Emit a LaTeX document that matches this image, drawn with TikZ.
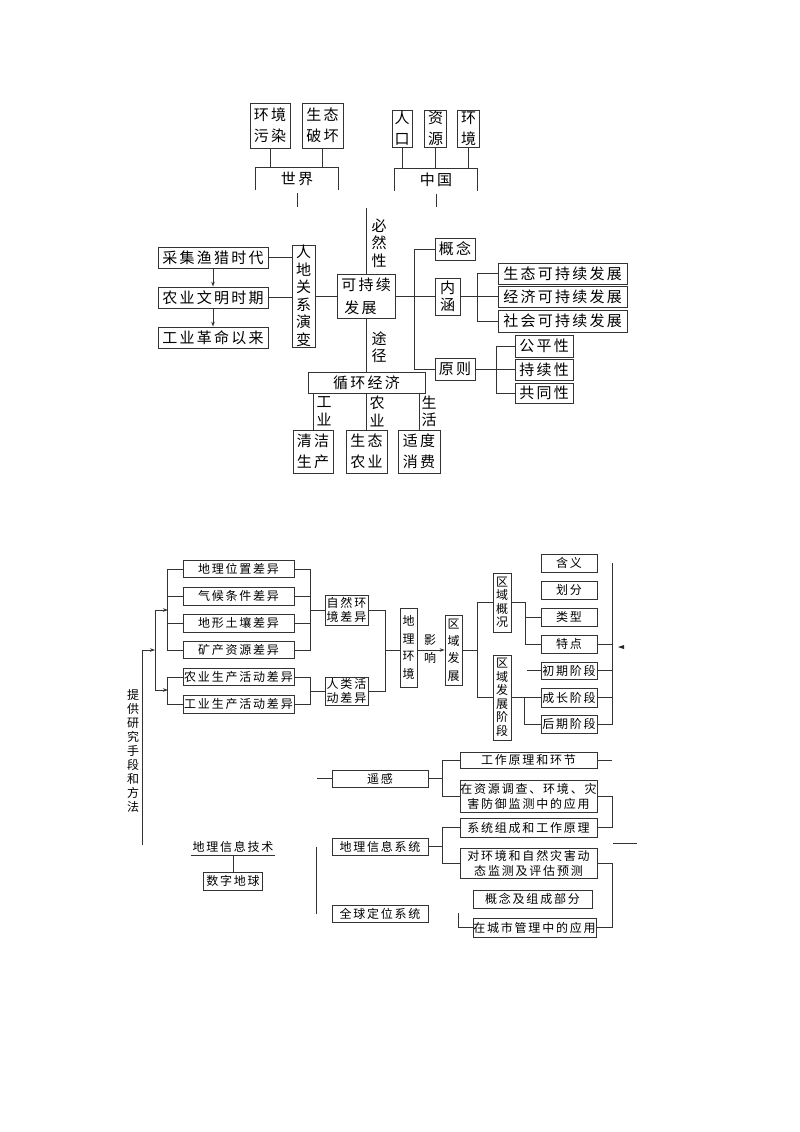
\documentclass[tikz,border=0pt]{standalone}
\usepackage{fontspec}
\newfontfamily\cjk[LetterSpace=15]{Noto Sans CJK SC}
\usetikzlibrary{arrows.meta}
\newcommand\ftop{\cjk\fontsize{15}{17.5}\selectfont}
\newcommand\ftopw{\cjk\fontsize{15}{21}\selectfont}
\newcommand\fbot{\cjk\fontsize{12}{14}\selectfont}
\tikzset{
  ln/.style={draw=black!80, line width=0.8pt},
  tbox/.style={draw=black!80, line width=0.8pt, inner sep=0pt, align=center, font=\ftop},
  bbox/.style={draw=black!80, line width=0.8pt, inner sep=0pt, align=center, font=\fbot},
  tlbl/.style={inner sep=0pt, align=center, font=\ftop},
  blbl/.style={inner sep=0pt, align=center, font=\fbot},
  arr/.style={ln, -{Stealth[length=5pt,width=3.5pt]}},
}
\begin{document}
\begin{tikzpicture}[x=1pt,y=-1pt]
\fill[white] (0,0) rectangle (800,1132);
\useasboundingbox (0,0) rectangle (800,1132);

% ================= TOP DIAGRAM =================
\node[tbox, font=\ftopw, minimum width=40, minimum height=45] (hjwr) at (270,125.5) {环境\\污染};
\node[tbox, font=\ftopw, minimum width=41, minimum height=45] (stph) at (322.5,125.5) {生态\\破坏};
\node[tbox, font=\ftopw, minimum width=20, minimum height=37] (rk) at (402,128.5) {人\\口};
\node[tbox, font=\ftopw, minimum width=22, minimum height=37] (zy) at (435.5,128.5) {资\\源};
\node[tbox, font=\ftopw, minimum width=22, minimum height=37] (hj) at (468.5,128.5) {环\\境};

\node[tlbl, minimum width=82, minimum height=22] (sj) at (297,179) {世界};
\draw[ln] (sj.south west) -- (sj.north west) -- (sj.north east) -- (sj.south east);
\node[tlbl, minimum width=82, minimum height=22] (zg) at (436,179.5) {中国};
\draw[ln] (zg.south west) -- (zg.north west) -- (zg.north east) -- (zg.south east);

\draw[ln] (hjwr.south) -- (hjwr.south |- sj.north);
\draw[ln] (stph.south) -- (stph.south |- sj.north);
\draw[ln] (rk.south) -- (rk.south |- zg.north);
\draw[ln] (zy.south) -- (zy.south |- zg.north);
\draw[ln] (hj.south) -- (hj.south |- zg.north);
\coordinate (sjEnd) at (297,207);
\coordinate (zgEnd) at (436,207);
\draw[ln] ([yshift=-3pt]sj.south) -- (sjEnd);
\draw[ln] ([yshift=-3pt]zg.south) -- (zgEnd);

% left chain
\node[tbox, minimum width=110, minimum height=21] (cj) at (213,257.5) {采集渔猎时代};
\node[tbox, minimum width=110, minimum height=21] (ny) at (213,297.5) {农业文明时期};
\node[tbox, minimum width=110, minimum height=21] (gy) at (213,337.5) {工业革命以来};
\draw[arr] (cj.south) -- (ny.north);
\draw[arr] (ny.south) -- (gy.north);

\node[tbox, minimum width=23, minimum height=102] (rd) at (303.5,296) {人\\地\\关\\系\\演\\变};
\draw[ln] (cj.east) -- (cj.east -| rd.west);
\draw[ln] (ny.east) -- (ny.east -| rd.west);

\node[tbox, font=\cjk\fontsize{15}{23}\selectfont, minimum width=58, minimum height=44] (kc) at (366,296) {可持续\\发展\ \ \ };
\draw[ln] (rd.east) -- (rd.east -| kc.west);

\coordinate (bxTop) at (366,208);
\draw[ln] (bxTop) -- (kc.north);
\node[tlbl] (bxx) at (379,243) {必\\然\\性};

\node[tbox, minimum width=117, minimum height=21] (xh) at (366.5,382.5) {循环经济};
\draw[ln] (kc.south) -- (kc.south |- xh.north);
\node[tlbl] (tj) at (379,347) {途\\径};

\node[tbox, font=\ftopw, minimum width=40, minimum height=43] (qj) at (313,451.5) {清洁\\生产};
\node[tbox, font=\ftopw, minimum width=41, minimum height=43] (stny) at (366.5,451.5) {生态\\农业};
\node[tbox, font=\ftopw, minimum width=42, minimum height=43] (sdxf) at (419,451.5) {适度\\消费};
\draw[ln] (qj.north) -- (qj.north |- xh.south);
\draw[ln] (stny.north) -- (stny.north |- xh.south);
\draw[ln] (sdxf.north) -- (sdxf.north |- xh.south);
\node[tlbl] (lgy) at (324,411.5) {工\\业};
\node[tlbl] (lny) at (377,411.5) {农\\业};
\node[tlbl] (lsh) at (429,411.5) {生\\活};

% right tree
\node[tbox, minimum width=40, minimum height=22] (gn) at (455,249) {概念};
\node[tbox, minimum width=25, minimum height=37] (nh) at (447.5,296.5) {内\\涵};
\node[tbox, minimum width=40, minimum height=22] (yz) at (455,369) {原则};
\draw[ln] (kc.east) -- (kc.east -| nh.west);
\draw[ln] (gn.west) -- ++(-20,0) |- (yz.west);

\node[tbox, minimum width=129, minimum height=21] (sty) at (562.5,273.5) {生态可持续发展};
\node[tbox, minimum width=129, minimum height=21] (jj) at (562.5,297) {经济可持续发展};
\node[tbox, minimum width=129, minimum height=22] (sh) at (562.5,321) {社会可持续发展};
\draw[ln] (nh.east) -- (nh.east -| jj.west);
\draw[ln] (sty.west) -- ++(-20,0) |- (sh.west);

\node[tbox, minimum width=58, minimum height=22] (gp) at (544,346) {公平性};
\node[tbox, minimum width=58, minimum height=21] (cx) at (544,369.5) {持续性};
\node[tbox, minimum width=58, minimum height=20] (gt) at (544,393) {共同性};
\draw[ln] (yz.east) -- (yz.east -| cx.west);
\draw[ln] (gp.west) -- ++(-18,0) |- (gt.west);

% ================= BOTTOM DIAGRAM =================
\node[bbox, minimum width=111, minimum height=17] (b1) at (238.5,569) {地理位置差异};
\node[bbox, minimum width=111, minimum height=18] (b2) at (238.5,596) {气候条件差异};
\node[bbox, minimum width=111, minimum height=18] (b3) at (238.5,623) {地形土壤差异};
\node[bbox, minimum width=111, minimum height=17] (b4) at (238.5,650) {矿产资源差异};
\node[bbox, minimum width=111, minimum height=17] (b5) at (238.5,677) {农业生产活动差异};
\node[bbox, minimum width=111, minimum height=18] (b6) at (238.5,704) {工业生产活动差异};

% left side tree with arrows
\draw[ln] (b1.west) -- ++(-15,0) |- (b4.west);
\draw[ln] (b2.west) -- ++(-15,0);
\draw[ln] (b3.west) -- ++(-15,0);
\draw[ln] (b5.west) -- ++(-15,0) |- (b6.west);
\coordinate (na) at (168,610);
\coordinate (ra) at (168,690);
\coordinate (va) at (155,610);
\coordinate (vb) at (155,690);
\coordinate (vm) at (155,650);
\coordinate (mt) at (142,650);
\coordinate (mb) at (142,845);
\draw[ln] (va) -- (vb);
\draw[arr] (va) -- (na);
\draw[arr] (vb) -- (ra);
\draw[ln] (mb) -- (mt);
\draw[arr] (mt) -- (vm);
\node[blbl] (tg) at (133,751) {提\\供\\研\\究\\手\\段\\和\\方\\法};

% right side of left column
\node[bbox, minimum width=43, minimum height=30] (zr) at (346.5,610) {自然环\\境差异};
\node[bbox, minimum width=43, minimum height=28] (rl) at (346.5,691) {人类活\\动差异};
\draw[ln] (b1.east) -- ++(16,0) |- (b4.east);
\draw[ln] (b2.east) -- ++(16,0);
\draw[ln] (b3.east) -- ++(16,0);
\draw[ln] (zr.west) -- ++(-15,0);
\draw[ln] (b5.east) -- ++(16,0) |- (b6.east);
\draw[ln] (rl.west) -- ++(-15,0);

\node[bbox, font=\cjk\fontsize{12}{17.7}\selectfont, minimum width=17, minimum height=79] (dl) at (408.5,647.5) {地\\理\\环\\境};
\draw[ln] (zr.east) -- ++(17,0) |- (rl.east);
\draw[ln] (dl.west |- 0,650) -- ++(-15,0);
\node[blbl, font=\cjk\fontsize{12}{18}\selectfont] (yx) at (430,649) {影\\响};
\node[bbox, font=\cjk\fontsize{12}{17.3}\selectfont, minimum width=17, minimum height=70] (qf) at (453.5,650) {区\\域\\发\\展};
\draw[arr] (dl.east |- qf.west) -- (qf.west);

\node[bbox, font=\cjk\fontsize{12}{13.5}\selectfont, minimum width=18, minimum height=59] (qg) at (502,602.5) {区\\域\\概\\况};
\node[bbox, font=\cjk\fontsize{12}{13.5}\selectfont, minimum width=18, minimum height=85] (qj2) at (502,697.5) {区\\域\\发\\展\\阶\\段};
\draw[ln] (qg.west) -- ++(-15,0) |- (qj2.west);
\draw[ln] (qf.east) -- ++(16,0);

\node[bbox, minimum width=56, minimum height=18] (c1) at (569,563) {含义};
\node[bbox, minimum width=56, minimum height=18] (c2) at (569,590) {划分};
\node[bbox, minimum width=56, minimum height=18] (c3) at (569,617) {类型};
\node[bbox, minimum width=56, minimum height=18] (c4) at (569,644) {特点};
\node[bbox, minimum width=56, minimum height=17] (c5) at (569,670.5) {初期阶段};
\node[bbox, minimum width=56, minimum height=19] (c6) at (569,697.5) {成长阶段};
\node[bbox, minimum width=56, minimum height=18] (c7) at (569,724) {后期阶段};
\draw[ln] (qg.east) -- ++(14,0) |- (c4.west);
\draw[ln] (c3.west) -- ++(-15,0);
\draw[ln] (qj2.east) -- (qj2.east -| c6.west);
\draw[ln] (c7.west) -- ++(-16,0) |- (c6.west);
\draw[ln] (c5.west) -- ++(-14,0);
\draw[ln] ([xshift=15pt]c1.east) -- ([xshift=15pt]c7.east) -- (c7.east);
\draw[ln] (c4.east) -- ++(15,0);
\draw[ln] (c5.east) -- ++(15,0);
\draw[ln] (c6.east) -- ++(15,0);
\fill[black!85] (618,647) -- (624,645) -- (624,649) -- cycle;

% lower block
\node[bbox, minimum width=96, minimum height=17] (yg) at (380,778.5) {遥感};
\node[bbox, minimum width=96, minimum height=17] (gis) at (380,846.5) {地理信息系统};
\node[bbox, minimum width=96, minimum height=17] (gps) at (380,913.5) {全球定位系统};
\draw[ln] (yg.west) -- ++(-15,0);
\draw[ln] ([xshift=-15pt]gis.west) -- ([xshift=-15pt]gps.west);

\node[bbox, minimum width=137, minimum height=16] (r1) at (528.5,760) {工作原理和环节};
\node[bbox, font=\cjk\fontsize{12}{15}\selectfont, minimum width=137, minimum height=32] (r2) at (528.5,796) {在资源调查、环境、灾\\害防御监测中的应用};
\node[bbox, minimum width=137, minimum height=19] (r3) at (528.5,827.5) {系统组成和工作原理};
\node[bbox, font=\cjk\fontsize{12}{15}\selectfont, minimum width=137, minimum height=30] (r4) at (528.5,863) {对环境和自然灾害动\\态监测及评估预测};
\node[bbox, minimum width=119, minimum height=18] (r5) at (532.5,899) {概念及组成部分};
\node[bbox, minimum width=123, minimum height=19] (r6) at (534.5,927.5) {在城市管理中的应用};

\draw[ln] (yg.east) -- ++(15,0);
\draw[ln] (r1.west) -- ++(-17,0) |- (r2.west);
\draw[ln] (gis.east) -- ++(15,0);
\draw[ln] (r3.west) -- ++(-17,0) |- (r4.west);
\draw[ln] (r2.east) -- ++(15,0) |- (r3.east);
\draw[ln] (r4.east) -- ++(15,0) |- (r6.east);
\draw[ln] ([xshift=1pt]r1.east) -- ++(14,0);
\coordinate (dgA) at (613,843);
\coordinate (dgB) at (637,843);
\draw[ln] (dgA) -- (dgB);
\coordinate (gpsB) at (458,913);
\draw[ln] (gpsB) |- (r6.west);

\node[blbl, minimum width=83, minimum height=16] (dlxx) at (233,847) {地理信息技术};
\draw[ln] (dlxx.south west) -- (dlxx.south east);
\node[bbox, minimum width=59, minimum height=18] (szdq) at (233,881) {数字地球};
\draw[ln] (dlxx.south) -- (szdq.north);
\end{tikzpicture}
\end{document}
